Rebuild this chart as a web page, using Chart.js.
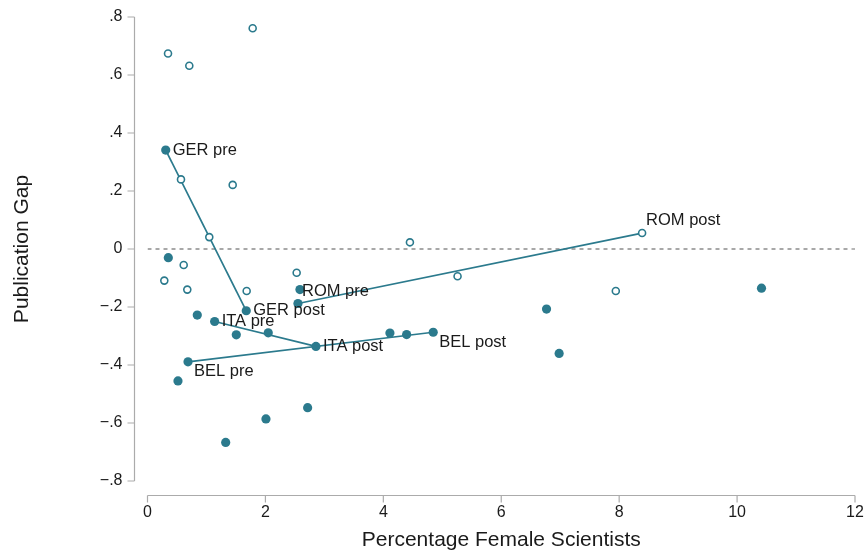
<!DOCTYPE html>
<html>
<head>
<meta charset="utf-8">
<title>Publication Gap vs Percentage Female Scientists</title>
<script src="https://cdn.jsdelivr.net/npm/chart.js@4.4.1/dist/chart.umd.min.js"></script>
<style>
  html, body { margin: 0; padding: 0; background: #fff; }
  #wrap { width: 867px; height: 555px; }
</style>
</head>
<body>
<div id="wrap"><canvas id="gap-chart" width="867" height="555"></canvas></div>
<script>
// axis ticks
const xTicks = [0, 2, 4, 6, 8, 10, 12];
const yTicks = [-0.8, -0.6, -0.4, -0.2, 0, 0.2, 0.4, 0.6, 0.8];
const yTickLabels = ['\u2212.8', '\u2212.6', '\u2212.4', '\u2212.2', '0', '.2', '.4', '.6', '.8'];

// country pre/post pairs joined by a segment
const countries = ['GER', 'ITA', 'BEL', 'ROM'];
const preShare = [0.309, 1.139, 0.687, 2.552];
const preGap = [0.341, -0.250, -0.389, -0.188];
const postShare = [1.675, 2.857, 4.846, 8.389];
const postGap = [-0.213, -0.336, -0.287, 0.055];
const postOpen = [false, false, false, true];

// remaining solid markers
const solidShare = [0.353, 0.844, 1.506, 2.048, 0.517, 2.009, 1.326, 2.716, 2.586, 4.112, 4.395, 6.768, 6.982, 10.414];
const solidGap = [-0.030, -0.228, -0.296, -0.289, -0.455, -0.586, -0.667, -0.547, -0.140, -0.290, -0.295, -0.207, -0.360, -0.135];

// remaining hollow markers
const openShare = [0.348, 0.709, 1.784, 0.568, 1.445, 1.048, 0.285, 0.614, 0.675, 1.682, 2.530, 4.451, 5.259, 7.943];
const openGap = [0.674, 0.632, 0.761, 0.240, 0.221, 0.041, -0.109, -0.055, -0.140, -0.145, -0.082, 0.023, -0.094, -0.145];

const TEAL = '#2b7a8d';
const FONT = '"Liberation Sans", Arial, Helvetica, sans-serif';

// where each endpoint label sits relative to its marker
const labelSpot = {
  'GER pre': [7, 0], 'GER post': [7, 0],
  'ITA pre': [7, 0], 'ITA post': [7, 0],
  'BEL pre': [6, 10], 'BEL post': [6, 10.5],
  'ROM pre': [4, -12], 'ROM post': [4, -13]
};

const pts = (xs, ys) => xs.map((x, i) => ({ x, y: ys[i] }));

const solidPoints = pts(solidShare, solidGap)
  .concat(pts(preShare, preGap))
  .concat(pts(postShare, postGap).filter((p, i) => !postOpen[i]));
const openPoints = pts(openShare, openGap)
  .concat(pts(postShare, postGap).filter((p, i) => postOpen[i]));

const segments = countries.map((c, i) => ({
  label: c,
  data: [{ x: preShare[i], y: preGap[i] }, { x: postShare[i], y: postGap[i] }],
  showLine: true,
  borderColor: TEAL,
  borderWidth: 1.7,
  pointRadius: 0,
  order: 2
}));

// separated axis lines with outward ticks
const offsetAxes = {
  id: 'offsetAxes',
  afterDraw(chart) {
    const { ctx, chartArea, scales: { x, y } } = chart;
    const ax = chartArea.left - 13;
    const ay = chartArea.bottom + 14.5;
    ctx.save();
    ctx.strokeStyle = '#ababab';
    ctx.lineWidth = 1.2;
    ctx.beginPath();
    ctx.moveTo(ax, y.getPixelForValue(yTicks[0]));
    ctx.lineTo(ax, y.getPixelForValue(yTicks[yTicks.length - 1]));
    yTicks.forEach(v => {
      const py = y.getPixelForValue(v);
      ctx.moveTo(ax - 7, py);
      ctx.lineTo(ax, py);
    });
    ctx.moveTo(x.getPixelForValue(xTicks[0]), ay);
    ctx.lineTo(x.getPixelForValue(xTicks[xTicks.length - 1]), ay);
    xTicks.forEach(v => {
      const px = x.getPixelForValue(v);
      ctx.moveTo(px, ay);
      ctx.lineTo(px, ay + 7);
    });
    ctx.stroke();
    ctx.restore();
  }
};

// "GER pre", "ROM post", ... next to the segment ends
const endLabels = {
  id: 'endLabels',
  afterDatasetsDraw(chart) {
    const { ctx, scales: { x, y } } = chart;
    ctx.save();
    ctx.font = '16.5px ' + FONT;
    ctx.fillStyle = '#1a1a1a';
    ctx.textAlign = 'left';
    ctx.textBaseline = 'middle';
    countries.forEach((c, i) => {
      [['pre', preShare[i], preGap[i]], ['post', postShare[i], postGap[i]]].forEach(([tag, sx, gy]) => {
        const name = c + ' ' + tag;
        const [dx, dy] = labelSpot[name];
        ctx.fillText(name, x.getPixelForValue(sx) + dx, y.getPixelForValue(gy) + dy);
      });
    });
    ctx.restore();
  }
};

new Chart(document.getElementById('gap-chart'), {
  type: 'scatter',
  data: {
    datasets: [
      {
        label: 'solid',
        data: solidPoints,
        backgroundColor: TEAL,
        borderWidth: 0,
        pointRadius: 4.6,
        order: 0
      },
      {
        label: 'hollow',
        data: openPoints,
        backgroundColor: '#ffffff',
        borderColor: TEAL,
        borderWidth: 1.6,
        pointRadius: 3.5,
        order: 0
      },
      ...segments,
      {
        label: 'zero',
        data: [{ x: xTicks[0], y: 0 }, { x: xTicks[xTicks.length - 1], y: 0 }],
        showLine: true,
        borderColor: '#707070',
        borderWidth: 1.2,
        borderDash: [4, 4],
        pointRadius: 0,
        order: 3
      }
    ]
  },
  options: {
    responsive: false,
    animation: false,
    devicePixelRatio: 1,
    layout: { autoPadding: false, padding: { top: 17, right: 12, bottom: 0, left: 0 } },
    plugins: {
      legend: { display: false },
      tooltip: { enabled: false }
    },
    scales: {
      x: {
        type: 'linear',
        min: xTicks[0],
        max: xTicks[xTicks.length - 1],
        grid: { display: false, drawTicks: false },
        border: { display: false },
        afterBuildTicks: s => { s.ticks = xTicks.map(v => ({ value: v })); },
        afterFit: s => {
          s.height = 74;
          s.paddingLeft = 0;
          s.paddingRight = 0;
        },
        ticks: {
          padding: 22,
          color: '#1a1a1a',
          font: { family: FONT, size: 16 },
          maxRotation: 0,
          callback: v => String(v)
        },
        title: {
          display: true,
          text: 'Percentage Female Scientists',
          color: '#1a1a1a',
          font: { family: FONT, size: 21 },
          padding: { top: 0, bottom: 2 }
        }
      },
      y: {
        type: 'linear',
        min: yTicks[0],
        max: yTicks[yTicks.length - 1],
        grid: { display: false, drawTicks: false },
        border: { display: false },
        afterBuildTicks: s => { s.ticks = yTicks.map(v => ({ value: v })); },
        afterFit: s => {
          s.width = 147.5;
          s.paddingTop = 0;
          s.paddingBottom = 0;
        },
        ticks: {
          padding: 25,
          color: '#1a1a1a',
          font: { family: FONT, size: 16 },
          callback: (v, i) => yTickLabels[i]
        },
        title: {
          display: true,
          text: 'Publication Gap',
          color: '#1a1a1a',
          font: { family: FONT, size: 21 },
          padding: { top: 10, bottom: 0 }
        }
      }
    }
  },
  plugins: [offsetAxes, endLabels]
});
</script>
</body>
</html>
